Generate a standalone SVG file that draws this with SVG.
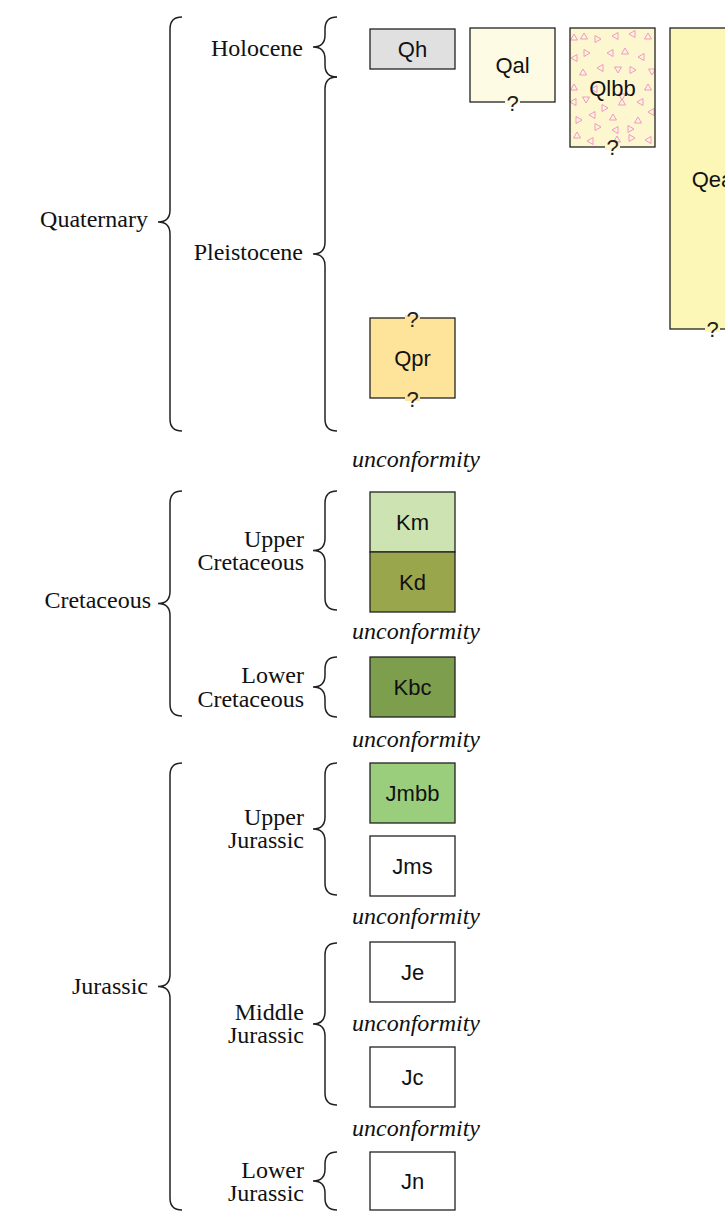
<svg xmlns="http://www.w3.org/2000/svg" width="725" height="1218" viewBox="0 0 725 1218">
<defs>
<style>
.box{stroke:#222;stroke-width:1.3}
.lbl{font-family:"Liberation Sans",Arial,sans-serif;font-size:22px;fill:#111;text-anchor:middle}
.q{font-family:"Liberation Sans",Arial,sans-serif;font-size:22px;fill:#222;text-anchor:middle}
.per{font-family:"Liberation Serif","Times New Roman",serif;font-size:24px;fill:#111;text-anchor:end}
.unc{font-family:"Liberation Serif","Times New Roman",serif;font-size:24px;font-style:italic;fill:#111;text-anchor:middle}
.brace{fill:none;stroke:#222;stroke-width:1.5}
.tri{fill:none;stroke:#f08cc8;stroke-width:0.9}
</style>
<path id="tu" d="M-3.5,3 L0,-3 L3.5,3 Z"/>
<path id="td" d="M-3.5,-3 L3.5,-3 L0,3 Z"/>
<path id="tl" d="M3,-3.5 L-3,0 L3,3.5 Z"/>
<path id="tr" d="M-3,-3.5 L3,0 L-3,3.5 Z"/>
<clipPath id="qlbbClip"><rect x="570" y="28" width="85" height="119"/></clipPath>
</defs>

<g id="braces">
<path class="brace" d="M182,17 Q170,17 170,29 L170,210 Q170,222 158,222 Q170,222 170,234 L170,419 Q170,431 182,431"/>
<path class="brace" d="M337,17 Q325,17 325,29 L325,35 Q325,47 313,47 Q325,47 325,59 L325,65 Q325,77 337,77"/>
<path class="brace" d="M337,77 Q325,77 325,89 L325,242 Q325,254 313,254 Q325,254 325,266 L325,419 Q325,431 337,431"/>
<path class="brace" d="M182,491 Q170,491 170,503 L170,591.5 Q170,603.5 158,603.5 Q170,603.5 170,615.5 L170,704 Q170,716 182,716"/>
<path class="brace" d="M337,491 Q325,491 325,503 L325,538.5 Q325,550.5 313,550.5 Q325,550.5 325,562.5 L325,598 Q325,610 337,610"/>
<path class="brace" d="M337,657 Q325,657 325,669 L325,675 Q325,687 313,687 Q325,687 325,699 L325,705 Q325,717 337,717"/>
<path class="brace" d="M182,763 Q170,763 170,775 L170,974.5 Q170,986.5 158,986.5 Q170,986.5 170,998.5 L170,1198 Q170,1210 182,1210"/>
<path class="brace" d="M337,763 Q325,763 325,775 L325,817 Q325,829 313,829 Q325,829 325,841 L325,883 Q325,895 337,895"/>
<path class="brace" d="M337,943 Q325,943 325,955 L325,1012 Q325,1024 313,1024 Q325,1024 325,1036 L325,1093 Q325,1105 337,1105"/>
<path class="brace" d="M337,1152 Q325,1152 325,1164 L325,1169 Q325,1181 313,1181 Q325,1181 325,1193 L325,1198 Q325,1210 337,1210"/>
</g>

<g id="periods">
<text class="per" x="148" y="227">Quaternary</text>
<text class="per" x="151" y="608">Cretaceous</text>
<text class="per" x="148" y="994">Jurassic</text>
</g>
<g id="epochs">
<text class="per" x="303" y="56">Holocene</text>
<text class="per" x="303" y="260">Pleistocene</text>
<text class="per" x="304" y="547">Upper</text>
<text class="per" x="304" y="570">Cretaceous</text>
<text class="per" x="304" y="683">Lower</text>
<text class="per" x="304" y="707">Cretaceous</text>
<text class="per" x="304" y="825">Upper</text>
<text class="per" x="304" y="848">Jurassic</text>
<text class="per" x="304" y="1020">Middle</text>
<text class="per" x="304" y="1043">Jurassic</text>
<text class="per" x="304" y="1178">Lower</text>
<text class="per" x="304" y="1201">Jurassic</text>
</g>

<g id="unconformities">
<text class="unc" x="416" y="467">unconformity</text>
<text class="unc" x="416" y="639">unconformity</text>
<text class="unc" x="416" y="747">unconformity</text>
<text class="unc" x="416" y="924">unconformity</text>
<text class="unc" x="416" y="1031">unconformity</text>
<text class="unc" x="416" y="1136">unconformity</text>
</g>

<g id="Qh">
<rect class="box" x="370" y="29" width="85" height="40" fill="#e0e0e0"/>
<text class="lbl" x="412.5" y="57">Qh</text>
</g>
<g id="Qal">
<rect class="box" x="470" y="28" width="85" height="74" fill="#fdfbe3"/>
<text class="lbl" x="512.5" y="73">Qal</text>
<rect x="505" y="99" width="15" height="6" fill="#fdfbe3"/>
<text class="q" x="512.5" y="111">?</text>
</g>
<g id="Qlbb">
<rect x="570" y="28" width="85" height="119" fill="#fcf7cf"/>
<g class="tri" clip-path="url(#qlbbClip)">
<use href="#tu" x="574" y="37"/><use href="#tu" x="584" y="36"/><use href="#tr" x="598" y="39"/><use href="#tl" x="615" y="36"/><use href="#tl" x="632" y="34"/><use href="#tu" x="648" y="36"/>
<use href="#tl" x="574" y="58"/><use href="#tr" x="587" y="53"/><use href="#tl" x="610" y="53"/><use href="#tu" x="625" y="51"/><use href="#tl" x="641" y="57"/>
<use href="#tu" x="583" y="72"/><use href="#tl" x="600" y="68"/><use href="#td" x="618" y="70"/><use href="#tr" x="633" y="70"/><use href="#td" x="652" y="72"/>
<use href="#tu" x="574" y="87"/><use href="#tl" x="594" y="89"/><use href="#td" x="622" y="97"/><use href="#tu" x="648" y="87"/>
<use href="#tl" x="573" y="102"/><use href="#td" x="586" y="100"/><use href="#tr" x="605" y="108"/><use href="#tu" x="622" y="102"/><use href="#tl" x="640" y="102"/>
<use href="#tr" x="579" y="120"/><use href="#tl" x="592" y="115"/><use href="#tu" x="613" y="117"/><use href="#tu" x="638" y="120"/><use href="#tl" x="651" y="112"/>
<use href="#tu" x="577" y="135"/><use href="#tr" x="598" y="127"/><use href="#tl" x="615" y="130"/><use href="#tr" x="631" y="129"/>
<use href="#tl" x="590" y="141"/><use href="#tu" x="617" y="139"/><use href="#tr" x="632" y="138"/><use href="#tl" x="648" y="140"/>
</g>
<rect class="box" x="570" y="28" width="85" height="119" fill="none"/>
<text class="lbl" x="612.5" y="96">Qlbb</text>
<rect x="605" y="144" width="15" height="6" fill="#fcf7cf"/>
<text class="q" x="612.5" y="155">?</text>
</g>
<g id="Qea">
<rect class="box" x="670" y="28" width="85" height="301" fill="#fcf6b7"/>
<text class="lbl" x="712.5" y="187">Qea</text>
<rect x="705" y="326" width="15" height="6" fill="#fcf6b7"/>
<text class="q" x="712.5" y="337">?</text>
</g>
<g id="Qpr">
<rect class="box" x="370" y="318" width="85" height="80" fill="#fee49a"/>
<text class="lbl" x="412.5" y="366">Qpr</text>
<rect x="405" y="315" width="15" height="6" fill="#fee49a"/>
<text class="q" x="412.5" y="327">?</text>
<rect x="405" y="395" width="15" height="6" fill="#fee49a"/>
<text class="q" x="412.5" y="407">?</text>
</g>
<g id="Km">
<rect class="box" x="370" y="492" width="85" height="60" fill="#cde4b2"/>
<text class="lbl" x="412.5" y="530">Km</text>
</g>
<g id="Kd">
<rect class="box" x="370" y="552" width="85" height="60" fill="#9aa64b"/>
<text class="lbl" x="412.5" y="590">Kd</text>
</g>
<g id="Kbc">
<rect class="box" x="370" y="657" width="85" height="60" fill="#7c9e4d"/>
<text class="lbl" x="412.5" y="695">Kbc</text>
</g>
<g id="Jmbb">
<rect class="box" x="370" y="763" width="85" height="60" fill="#9ace7c"/>
<text class="lbl" x="412.5" y="801">Jmbb</text>
</g>
<g id="Jms">
<rect class="box" x="370" y="836" width="85" height="60" fill="#ffffff"/>
<text class="lbl" x="412.5" y="874">Jms</text>
</g>
<g id="Je">
<rect class="box" x="370" y="942" width="85" height="60" fill="#ffffff"/>
<text class="lbl" x="412.5" y="980">Je</text>
</g>
<g id="Jc">
<rect class="box" x="370" y="1047" width="85" height="60" fill="#ffffff"/>
<text class="lbl" x="412.5" y="1085">Jc</text>
</g>
<g id="Jn">
<rect class="box" x="370" y="1152" width="85" height="58" fill="#ffffff"/>
<text class="lbl" x="412.5" y="1189">Jn</text>
</g>
</svg>
